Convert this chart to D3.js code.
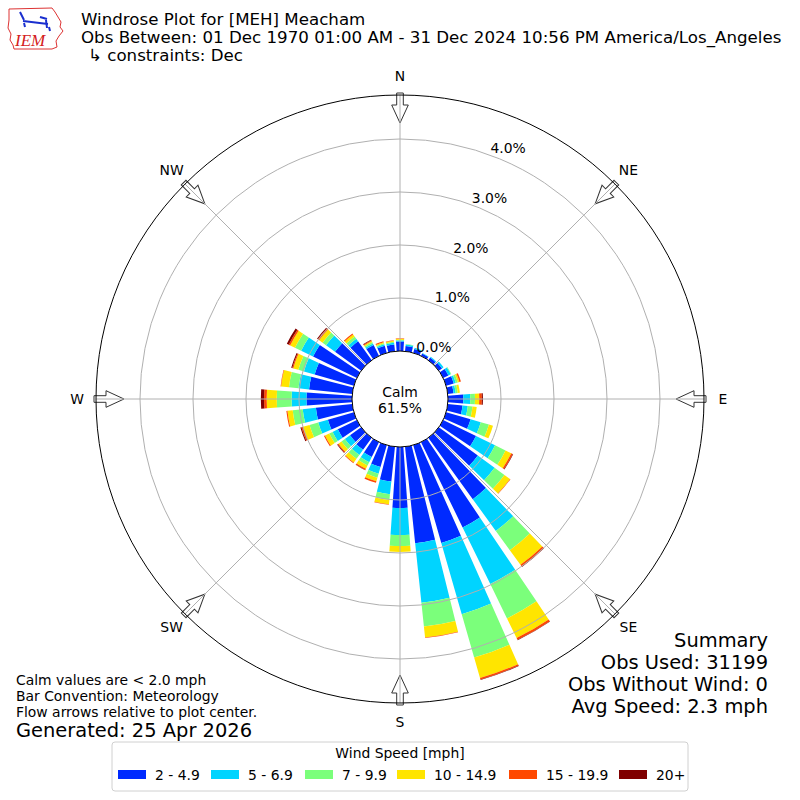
<!DOCTYPE html>
<html>
<head>
<meta charset="utf-8">
<script src="https://cdn.jsdelivr.net/npm/d3@7"></script>
<style>
body { margin: 0; background: #fff; }
svg { font-family: "DejaVu Sans", sans-serif; }
</style>
</head>
<body>
<div id="chart"></div>
<script>
// direction bins (degrees, meteorological convention)
var directions = [0,10,20,30,40,50,60,70,80,90,100,110,120,130,140,150,160,170,
                  180,190,200,210,220,230,240,250,260,270,280,290,300,310,320,330,340,350];

var speedBins = ["2 - 4.9", "5 - 6.9", "7 - 9.9", "10 - 14.9", "15 - 19.9", "20+"];
var binColors = ["#002aff", "#00d4ff", "#7bff7b", "#ffe500", "#ff4800", "#800000"];

// frequency (%) per direction for each speed bin
var bin1 = [0.18,0.10,0.075,0.05,0.06,0.075,0.11,0.15,0.11,0.29,0.28,0.48,0.69,0.91,1.43,1.79,1.92,1.83,
            1.15,0.66,0.43,0.31,0.28,0.26,0.40,0.51,0.69,0.86,0.82,0.77,0.92,0.61,0.44,0.23,0.14,0.13];
var bin2 = [0.02,0.03,0.025,0.01,0.02,0.035,0.05,0.04,0.04,0.13,0.10,0.20,0.40,0.39,0.74,1.19,1.40,1.13,
            0.51,0.24,0.13,0.11,0.12,0.12,0.11,0.19,0.25,0.28,0.20,0.21,0.25,0.21,0.06,0.03,0.03,0.03];
var bin3 = [0.01,0.01,0,0,0,0,0.01,0.04,0.04,0.09,0.09,0.16,0.22,0.23,0.45,0.72,0.85,0.45,
            0.21,0.11,0.08,0.07,0.09,0.08,0.07,0.17,0.19,0.28,0.18,0.11,0.13,0.08,0.05,0.03,0.02,0.02];
var bin4 = [0.02,0,0,0,0,0,0,0.03,0.04,0.08,0.08,0.08,0.12,0.13,0.34,0.41,0.40,0.21,
            0.11,0.08,0.07,0.07,0.085,0.07,0.09,0.13,0.10,0.19,0.15,0.10,0.10,0.08,0.05,0.02,0.02,0.02];
var bin5 = [0.01,0,0,0,0,0,0,0.03,0,0.05,0,0,0.03,0.01,0.04,0.04,0.03,0.01,
            0,0.01,0.03,0.025,0.015,0.02,0.02,0.03,0.02,0.05,0.01,0.02,0.03,0.03,0.02,0.02,0.02,0.01];
var bin6 = [0,0,0,0,0,0,0,0,0,0.02,0,0,0.01,0,0.01,0.01,0.01,0,
            0,0,0,0.005,0,0.01,0,0.02,0,0.06,0,0.02,0.04,0.02,0,0.01,0,0];

var ringTicks = [0, 1, 2, 3, 4];
var compass = ["N", "NE", "E", "SE", "S", "SW", "W", "NW"];
var calmPct = "61.5%";

var titleLines = ["Windrose Plot for [MEH] Meacham",
  "Obs Between: 01 Dec 1970 01:00 AM - 31 Dec 2024 10:56 PM America/Los_Angeles",
  "\u21b3 constraints: Dec"];
var notes = ["Calm values are < 2.0 mph", "Bar Convention: Meteorology", "Flow arrows relative to plot center."];
var summary = ["Summary", "Obs Used: 31199", "Obs Without Wind: 0", "Avg Speed: 2.3 mph"];

var small = 13.9, mid = 16.67, big = 19.44;
var cx = 400, cy = 399;
var svg = d3.select("#chart").append("svg").attr("width", 800).attr("height", 800);

var r = d3.scaleLinear().domain([0, 4.83]).range([48, 304]);
var rad = function(deg) { return deg * Math.PI / 180; };

var series = [bin1, bin2, bin3, bin4, bin5, bin6];
var rows = directions.map(function(d, i) {
  var o = {dir: d};
  speedBins.forEach(function(k, j) { o[k] = series[j][i]; });
  return o;
});
var stacked = d3.stack().keys(speedBins)(rows);

var plot = svg.append("g").attr("transform", "translate(" + cx + "," + cy + ")");

var arc = d3.arc()
  .innerRadius(function(d) { return r(d[0]); })
  .outerRadius(function(d) { return r(d[1]); })
  .startAngle(function(d) { return rad(d.data.dir - 4); })
  .endAngle(function(d) { return rad(d.data.dir + 4); });

plot.selectAll("g.layer")
  .data(stacked)
  .enter().append("g")
  .attr("class", "layer")
  .attr("fill", function(d, i) { return binColors[i]; })
  .selectAll("path")
  .data(function(d) { return d.filter(function(p) { return p[1] - p[0] > 0; }); })
  .enter().append("path")
  .attr("d", arc);

// flow arrows
var arrowPath = "M-3.3,-306L3.3,-306L3.3,-294L8.3,-294L0,-276L-8.3,-294L-3.3,-294Z";
plot.selectAll("path.arrow")
  .data(compass)
  .enter().append("path")
  .attr("class", "arrow")
  .attr("d", arrowPath)
  .attr("transform", function(d, i) { return "rotate(" + (i * 45) + ")"; })
  .attr("fill", "#fff")
  .attr("stroke", "#333")
  .attr("stroke-width", 1);

// grid
plot.selectAll("circle.ring")
  .data(ringTicks.slice(1))
  .enter().append("circle")
  .attr("r", function(d) { return r(d); })
  .attr("fill", "none")
  .attr("stroke", "#b0b0b0")
  .attr("stroke-width", 1);

plot.selectAll("line.spoke")
  .data(compass)
  .enter().append("line")
  .attr("x1", 0).attr("y1", 0)
  .attr("x2", function(d, i) { return r(4.83) * Math.sin(rad(i * 45)); })
  .attr("y2", function(d, i) { return -r(4.83) * Math.cos(rad(i * 45)); })
  .attr("stroke", "#b0b0b0")
  .attr("stroke-width", 1);

plot.append("circle")
  .attr("r", r(4.83))
  .attr("fill", "none")
  .attr("stroke", "#000")
  .attr("stroke-width", 1);

// calm circle
plot.append("circle")
  .attr("r", r(0))
  .attr("fill", "#fff")
  .attr("stroke", "#000")
  .attr("stroke-width", 1);

plot.append("text").attr("x", 0).attr("y", -7).attr("dy", "0.35em")
  .attr("text-anchor", "middle").attr("font-size", small).text("Calm");
plot.append("text").attr("x", 0).attr("y", 9).attr("dy", "0.35em")
  .attr("text-anchor", "middle").attr("font-size", small).text(calmPct);

// ring labels
plot.selectAll("text.rlabel")
  .data(ringTicks)
  .enter().append("text")
  .attr("x", function(d) { return r(d) * Math.sin(rad(20.5)) + 17; })
  .attr("y", function(d) { return -r(d) * Math.cos(rad(20.5)) - 7; })
  .attr("dy", "0.35em")
  .attr("text-anchor", "middle")
  .attr("font-size", small)
  .text(function(d) { return d.toFixed(1) + "%"; });

// compass labels
plot.selectAll("text.dir")
  .data(compass)
  .enter().append("text")
  .attr("x", function(d, i) { return 323 * Math.sin(rad(i * 45)); })
  .attr("y", function(d, i) { return -323 * Math.cos(rad(i * 45)); })
  .attr("dy", "0.35em")
  .attr("text-anchor", "middle")
  .attr("font-size", small)
  .text(function(d) { return d; });

// title
svg.selectAll("text.title")
  .data(titleLines)
  .enter().append("text")
  .attr("x", function(d, i) { return i == 2 ? 88 : 81; })
  .attr("y", function(d, i) { return 25 + i * 18; })
  .attr("font-size", mid)
  .text(function(d) { return d; });

// notes bottom-left
svg.selectAll("text.note")
  .data(notes)
  .enter().append("text")
  .attr("x", 16)
  .attr("y", function(d, i) { return 685 + i * 16; })
  .attr("font-size", small)
  .text(function(d) { return d; });
svg.append("text").attr("x", 16).attr("y", 737).attr("font-size", big).text("Generated: 25 Apr 2026");

// summary
svg.selectAll("text.summary")
  .data(summary)
  .enter().append("text")
  .attr("x", 768)
  .attr("y", function(d, i) { return 647 + i * 22; })
  .attr("text-anchor", "end")
  .attr("font-size", big)
  .text(function(d) { return d; });

// legend
var legend = svg.append("g");
legend.append("rect")
  .attr("x", 112).attr("y", 742).attr("width", 576).attr("height", 49)
  .attr("rx", 3).attr("fill", "#fff").attr("stroke", "#d0d0d0");
legend.append("text").attr("x", 400).attr("y", 758).attr("text-anchor", "middle")
  .attr("font-size", small).text("Wind Speed [mph]");
var legendX = [118, 211, 305, 397, 509, 619];
var items = legend.selectAll("g.item")
  .data(speedBins)
  .enter().append("g")
  .attr("transform", function(d, i) { return "translate(" + legendX[i] + ",770)"; });
items.append("rect").attr("width", 28).attr("height", 9)
  .attr("fill", function(d, i) { return binColors[i]; });
items.append("text").attr("x", 37).attr("y", 9.5).attr("font-size", small)
  .text(function(d) { return d; });

// IEM logo (rough)
var logo = svg.append("g");
logo.append("path")
  .attr("d", "M9,9 L52,8 L55,12 L58,17 L61,22 L60,27 L63,31 L59,36 L56,41 L57,47 L52,49 L14,49 L13,45 L10,40 L11,34 L8,28 L9,20 Z")
  .attr("fill", "none").attr("stroke", "#d33").attr("stroke-width", 1);
logo.append("path")
  .attr("d", "M23,21 L48,24 M20,12 L24,20 M40,17 L47,19 M46,20 L47,28 M24,23 L25,27 M49,27 L50,31")
  .attr("fill", "none").attr("stroke", "#1a2fcf").attr("stroke-width", 2);
logo.append("text").attr("x", 15).attr("y", 46).attr("font-size", 17)
  .attr("font-family", "Liberation Serif, serif").attr("font-style", "italic")
  .attr("fill", "#d42020").text("IEM");
</script>
</body>
</html>
